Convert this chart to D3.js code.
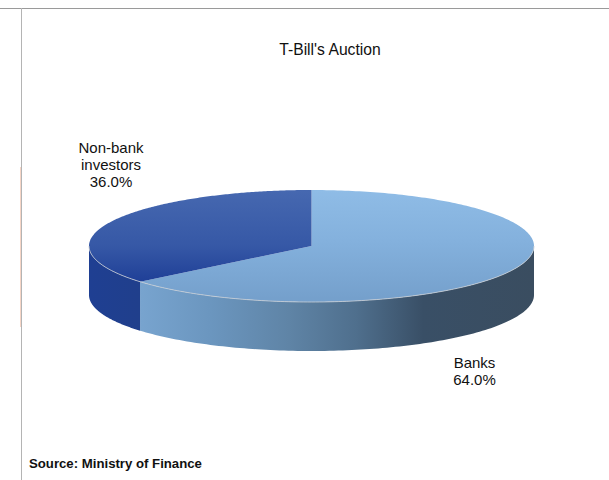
<!DOCTYPE html>
<html>
<head>
<meta charset="utf-8">
<script src="https://cdn.jsdelivr.net/npm/d3@7/dist/d3.min.js"></script>
<style>
html,body{margin:0;padding:0;background:#fff;overflow:hidden}
svg{display:block}
text{font-family:"Liberation Sans",Arial,sans-serif;fill:#111}
</style>
</head>
<body>
<svg id="chart" width="609" height="480"></svg>
<script>
const title = "T-Bill's Auction";
const source = "Source: Ministry of Finance";
const categories = ["Banks", "Non-bank investors"];
const shares = [64.0, 36.0];

const svg = d3.select("#chart");
const cx = 311.5, cy = 246, rx = 222.5, ry = 56, depth = 49;

// Unit-circle projection onto the tilted disc
const px = d3.scaleLinear().domain([-1, 1]).range([cx - rx, cx + rx]);
const py = d3.scaleLinear().domain([-1, 1]).range([cy - ry, cy + ry]);
const ex = a => px(Math.sin(a));
const ey = a => py(-Math.cos(a));

const slices = d3.pie().sort(null)(shares);
const frontStart = Math.PI / 2, frontEnd = Math.PI * 3 / 2;

const defs = svg.append("defs");
function gradient(id, x1, y1, x2, y2, stops) {
  const g = defs.append("linearGradient").attr("id", id)
    .attr("gradientUnits", "userSpaceOnUse")
    .attr("x1", x1).attr("y1", y1).attr("x2", x2).attr("y2", y2);
  stops.forEach(([o, c]) => g.append("stop").attr("offset", o).attr("stop-color", c));
}
gradient("top0", 0, cy - ry, 0, cy + ry, [[0, "#8fbce6"], [0.45, "#84b1dd"], [1, "#749fcb"]]);
gradient("top1", 0, cy - ry, 0, cy + ry, [[0, "#4668b0"], [0.5, "#3658a6"], [0.82, "#1f3f97"], [1, "#1f3f97"]]);
gradient("side0", 139, 0, 534, 0, [
  [0, "#78a4cf"], [0.18, "#6b96bf"], [0.38, "#5f84a6"], [0.55, "#4f6f8d"],
  [0.72, "#394f66"], [1, "#3a4d60"]
]);
gradient("side1", 89, 0, 139, 0, [[0, "#1f3f92"], [1, "#203f8c"]]);

// Frame rules of the page
svg.append("line").attr("x1", 0).attr("x2", 609).attr("y1", 8.5).attr("y2", 8.5)
  .attr("stroke", "#9a9a9a");
svg.append("line").attr("x1", 21.5).attr("x2", 21.5).attr("y1", 8).attr("y2", 480)
  .attr("stroke", "#b4b4b4");
svg.append("line").attr("x1", 20.5).attr("x2", 20.5).attr("y1", 167).attr("y2", 327)
  .attr("stroke", "#f6d5c6");

// Visible rim of each slice, restricted to the front half of the disc
const wall = d3.area().x(a => ex(a)).y0(a => ey(a)).y1(a => ey(a) + depth);
const g = svg.append("g");
slices.forEach((s, i) => {
  const a0 = Math.max(s.startAngle, frontStart), a1 = Math.min(s.endAngle, frontEnd);
  if (a1 <= a0) return;
  const steps = d3.range(0, 121).map(k => a0 + (a1 - a0) * k / 120);
  g.append("path").attr("d", wall(steps)).attr("fill", `url(#side${i})`);
});

// Top faces
const sector = s => {
  const p = d3.path();
  p.moveTo(cx, cy);
  d3.range(0, 241).forEach(k => {
    const a = s.startAngle + (s.endAngle - s.startAngle) * k / 240;
    p.lineTo(ex(a), ey(a));
  });
  p.closePath();
  return p.toString();
};
slices.forEach((s, i) => {
  g.append("path").attr("d", sector(s)).attr("fill", `url(#top${i})`);
});

// Pale highlight along the front edge of the disc
const edge = d3.line().x(a => ex(a)).y(a => ey(a));
g.append("path")
  .attr("d", edge(d3.range(0, 181).map(k => frontStart + (frontEnd - frontStart) * k / 180)))
  .attr("fill", "none").attr("stroke", "#c9ced4").attr("stroke-width", 0.8);

// Text
svg.append("text").attr("x", 330).attr("y", 55).attr("text-anchor", "middle")
  .attr("font-size", 15.7).text(title);

const label = (lines, x, y) => {
  const t = svg.append("text").attr("text-anchor", "middle").attr("font-size", 15);
  lines.forEach((l, i) => t.append("tspan").attr("x", x).attr("y", y + i * 17.2).text(l));
};
const pct = d3.format(".1f");
label(["Non-bank", "investors", pct(shares[1]) + "%"], 111, 152.5);
label([categories[0], pct(shares[0]) + "%"], 474.5, 368);

svg.append("text").attr("x", 29).attr("y", 468).attr("font-size", 13.2)
  .attr("font-weight", "bold").text(source);
</script>
</body>
</html>
